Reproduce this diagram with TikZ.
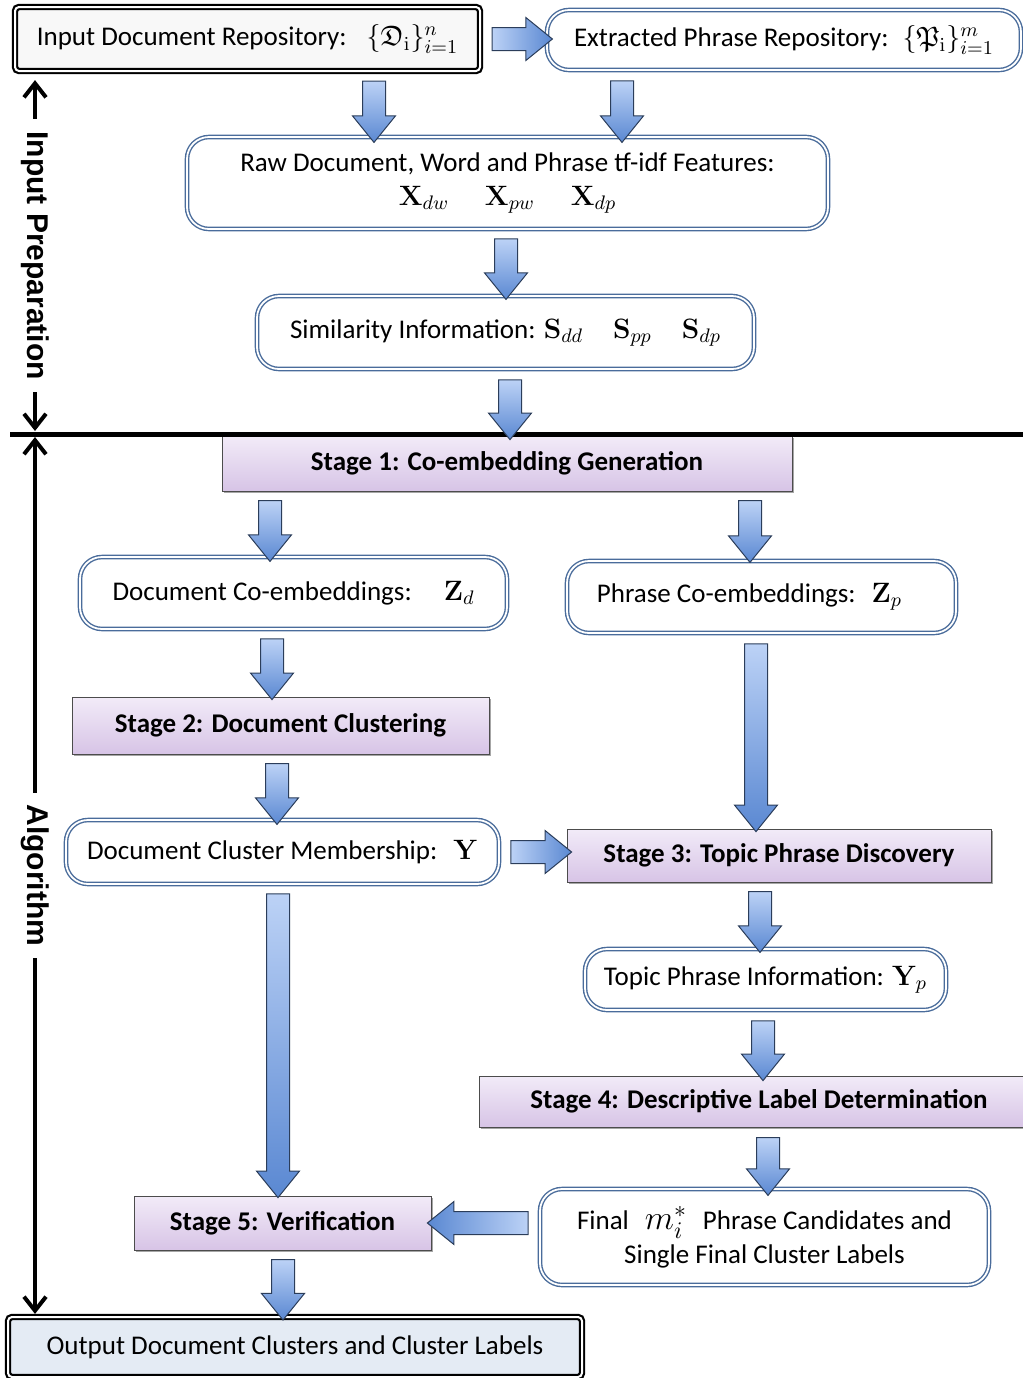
\RequirePackage{fix-cm}
\documentclass[tikz,border=0pt]{standalone}
\usepackage{amsfonts}
\usepackage[no-math]{fontspec}
\setmainfont{Carlito}
\newfontfamily\lblfont{Liberation Sans}
\usetikzlibrary{shapes.arrows,shadows,calc,arrows.meta}
\definecolor{bordblue}{HTML}{4A6C9B}
\definecolor{arrowlight}{HTML}{BCD2F6}
\definecolor{arrowdark}{HTML}{5A88D2}
\definecolor{arrowline}{HTML}{2B3D5A}
\definecolor{stagetop}{HTML}{F2EBF8}
\definecolor{stagebot}{HTML}{D7C4E6}
\definecolor{inboxfill}{HTML}{F8F8F8}
\definecolor{outfill}{HTML}{E4EBF4}
\newcommand\mfs{\fontsize{14}{16}\selectfont}
\tikzset{
  rbox/.style={draw=bordblue, double=white, double distance=0.9pt, line width=0.7pt,
    rounded corners=11pt, fill=white, inner sep=0pt},
  stagebox/.style={draw=black!70, line width=0.5pt, top color=stagetop, bottom color=stagebot,
    font=\fontsize{13.5}{16}\selectfont\bfseries, inner sep=0pt,
    drop shadow={shadow xshift=1.2pt, shadow yshift=-1.2pt, opacity=0.35, fill=black}},
  ibox/.style={draw=black, double=white, double distance=1pt, line width=1.1pt,
    rounded corners=2pt, inner sep=0pt},
  barrow/.style={single arrow, draw=arrowline, line width=0.5pt, left color=arrowlight,
    right color=arrowdark, inner xsep=0pt, inner ysep=5.5pt, minimum width=0pt,
    single arrow head extend=5pt, single arrow tip angle=78},
  dimarrow/.style={line width=2pt,
    arrows={Straight Barb[length=7pt,width=11pt,line width=2pt]-Straight Barb[length=7pt,width=11pt,line width=2pt]}},
  lbl/.style={rotate=-90, fill=white, inner xsep=6pt, inner ysep=1pt,
    font=\lblfont\bfseries\fontsize{15}{15}\selectfont}
}
\newcommand\barrow[2]{\path let \p1=#1, \p2=#2, \n1={veclen(\x2-\x1,\y2-\y1)},
  \n2={atan2(\y2-\y1,\x2-\x1)}, \n3={\n2+90} in
  node[barrow, minimum height=\n1, rotate=\n2, shading angle=\n3] at ($(\p1)!0.5!(\p2)$) {};}
\begin{document}
\begin{tikzpicture}[x=0.5pt,y=-0.5pt,font=\fontsize{13.5}{16}\selectfont]
\useasboundingbox (0,0) rectangle (1023,1378);
% boxes
\node[ibox, fill=inboxfill, minimum width=232.5pt, minimum height=32pt] (inp) at (247.5,39)
  {Input Document Repository:\hspace{10pt}{\mfs$\{\mathfrak{D}_{\mathrm{i}}\}_{i=1}^{n}$}};
\node[rbox, minimum width=237pt, minimum height=30pt] (ext) at (784,40)
  {Extracted Phrase Repository:\hspace{7pt}{\mfs$\{\mathfrak{P}_{\mathrm{i}}\}_{i=1}^{m}$}};
\node[rbox, align=center, minimum width=320.5pt, minimum height=46pt] (raw) at (507.5,183)
  {Raw Document, Word and Phrase tf-idf Features:\\[1pt]
   {\mfs$\mathbf{X}_{dw}\hspace{18pt}\mathbf{X}_{pw}\hspace{18pt}\mathbf{X}_{dp}$}};
\node[rbox, minimum width=248.5pt, minimum height=36.5pt] (sim) at (505.5,332.5)
  {Similarity Information: {\mfs$\mathbf{S}_{dd}\hspace{15pt}\mathbf{S}_{pp}\hspace{15pt}\mathbf{S}_{dp}$}};
\node[stagebox, minimum width=285pt, minimum height=27.5pt] (st1) at (507,463.5)
  {Stage 1: Co-embedding Generation};
\node[rbox, minimum width=213.5pt, minimum height=36pt] (dz) at (293.5,593)
  {Document Co-embeddings:\hspace{16pt}{\mfs$\mathbf{Z}_d$}};
\node[rbox, minimum width=194.5pt, minimum height=36pt] (pz) at (761.5,597)
  {Phrase Co-embeddings:\hspace{8pt}{\mfs$\mathbf{Z}_p$}\kern12pt};
\node[stagebox, minimum width=208.5pt, minimum height=28.5pt] (st2) at (280.5,725.5)
  {Stage 2: Document Clustering};
\node[rbox, minimum width=216.5pt, minimum height=32pt] (dcm) at (282.5,852)
  {Document Cluster Membership:\hspace{8pt}{\mfs$\mathbf{Y}$}};
\node[stagebox, minimum width=212pt, minimum height=26.5pt] (st3) at (779,855.5)
  {Stage 3: Topic Phrase Discovery};
\node[rbox, minimum width=180.5pt, minimum height=30.5pt] (tpi) at (765.5,979.5)
  {Topic Phrase Information: {\mfs$\mathbf{Y}_p$}};
\node[stagebox, minimum width=280pt, minimum height=25.5pt] (st4) at (759,1101.5)
  {Stage 4: Descriptive Label Determination};
\node[rbox, align=center, minimum width=224.5pt, minimum height=48pt] (fin) at (764.5,1237)
  {Final\hspace{8pt}{\fontsize{17}{17}\selectfont$m_i^*$}\hspace{8pt}Phrase Candidates and\\[1pt]
   Single Final Cluster Labels};
\node[stagebox, minimum width=148.5pt, minimum height=27pt] (st5) at (282.5,1223)
  {Stage 5: Verification};
\node[ibox, fill=outfill, minimum width=287pt, minimum height=30pt] (out) at (295,1347)
  {Output Document Clusters and Cluster Labels};
% separator line
\coordinate (hlL) at (10,434);
\coordinate (hlR) at (1030,434);
\draw[line width=2.5pt] (hlL) -- (hlR);
% block arrows
\barrow{($(inp.east)+(4,0)$)}{($(ext.west|-inp.east)+(-1,0)$)}
\barrow{($(374,0|-inp.south)+(0,2)$)}{($(374,0|-raw.north)+(0,-1)$)}
\barrow{($(622,0|-ext.south)+(0,3)$)}{($(622,0|-raw.north)+(0,-1)$)}
\barrow{($(506,0|-raw.south)+(0,2)$)}{($(506,0|-sim.north)+(0,-3)$)}
\barrow{($(510,0|-sim.south)+(0,3)$)}{($(510,0|-st1.north)+(0,-3)$)}
\barrow{($(270,0|-st1.south)+(0,2)$)}{($(270,0|-dz.north)+(0,-2)$)}
\barrow{($(750,0|-st1.south)+(0,2)$)}{($(750,0|-pz.north)+(0,-5)$)}
\barrow{($(272,0|-dz.south)+(0,2)$)}{($(272,0|-st2.north)+(0,-4)$)}
\barrow{($(277,0|-st2.south)+(0,2)$)}{($(277,0|-dcm.north)+(0,-2)$)}
\barrow{($(dcm.east)+(4,0)$)}{($(st3.west|-dcm.east)+(-2,0)$)}
\barrow{($(756,0|-pz.south)+(0,3)$)}{($(756,0|-st3.north)+(0,-4)$)}
\barrow{($(760,0|-st3.south)+(0,2)$)}{($(760,0|-tpi.north)+(0,-3)$)}
\barrow{($(763,0|-tpi.south)+(0,3)$)}{($(763,0|-st4.north)+(0,-2)$)}
\barrow{($(768,0|-st4.south)+(0,3)$)}{($(768,0|-fin.north)+(0,0)$)}
\barrow{($(fin.west|-st5.east)+(-4,0)$)}{($(st5.east)+(3,0)$)}
\barrow{($(278,0|-dcm.south)+(0,2)$)}{($(278,0|-st5.north)+(0,-5)$)}
\barrow{($(283,0|-st5.south)+(0,2)$)}{($(283,0|-out.north)+(0,-3)$)}
% side dimension arrows
\draw[dimarrow] ($(35,0|-inp.south)+(0,8)$) -- node[lbl]{Input Preparation} ($(35,0|-hlL)+(0,-3)$);
\draw[dimarrow] ($(35,0|-hlL)+(0,3)$) -- node[lbl]{Algorithm} ($(35,0|-out.north)+(0,-2)$);
\end{tikzpicture}
\end{document}
